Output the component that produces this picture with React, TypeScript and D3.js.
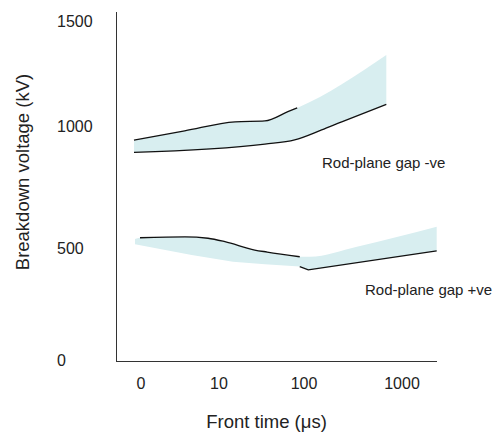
import React from "react";
import * as d3 from "d3";

// x positions are in "decade" units: 0 -> "0", 1 -> "10", 2 -> "100", 3 -> "1000"
const xTickLabels = ["0", "10", "100", "1000"];
const xTickPositions = [0, 1, 2, 3];
const yTickValues = [0, 500, 1000, 1500];

// Rod-plane gap -ve band (kV)
const negTop: [number, number][] = [
  [-0.09, 942], [0.56, 980], [1.19, 1020], [1.54, 1024], [1.81, 1068], [1.92, 1086], [2.84, 1338],
];
const negBottom: [number, number][] = [
  [-0.09, 892], [1.54, 926], [1.89, 943], [2.18, 984], [2.385, 1020], [2.84, 1103],
];

// Rod-plane gap +ve band (kV)
const posTop: [number, number][] = [
  [-0.077, 537], [-0.013, 542], [0.564, 546], [0.859, 540], [1.07, 526], [1.42, 491],
  [1.567, 482], [1.95, 461], [2.06, 461], [2.54, 505], [3.354, 587],
];
const posBottom: [number, number][] = [
  [-0.077, 515], [0.65, 469], [1.165, 439], [1.54, 427], [1.95, 417], [2.044, 402], [3.354, 487],
];

const FONT = "'Liberation Sans', Arial, Helvetica, sans-serif";

export default function App() {
  const W = 495, H = 434;
  const xScale = d3.scaleLinear().domain([0, 1, 2, 3]).range([141, 219, 304, 402]);
  const yScale = d3.scaleLinear().domain([0, 500, 1000, 1500]).range([360, 248, 126, 21]);

  const smooth = d3
    .line<[number, number]>()
    .x((d) => xScale(d[0]))
    .y((d) => yScale(d[1]))
    .curve(d3.curveMonotoneX);
  const straight = d3
    .line<[number, number]>()
    .x((d) => xScale(d[0]))
    .y((d) => yScale(d[1]))
    .curve(d3.curveLinear);

  const band = (
    top: [number, number][],
    bottom: [number, number][],
    bottomLine: d3.Line<[number, number]>
  ) => {
    const a = smooth(top) || "";
    const b = bottomLine([...bottom].reverse()) || "";
    return a + "L" + b.slice(1) + "Z";
  };

  const fill = "#d8eef0";
  const stroke = "#111";
  const sw = 1.3;

  return (
    <svg width={W} height={H} style={{ position: "absolute", left: 0, top: 0, background: "#fff" }}>
      {/* bands */}
      <path d={band(negTop, negBottom, smooth)} fill={fill} />
      <path d={band(posTop, posBottom, straight)} fill={fill} />
      {/* black edges */}
      <path d={smooth(negTop.slice(0, 6)) || ""} fill="none" stroke={stroke} strokeWidth={sw} />
      <path d={smooth(negBottom) || ""} fill="none" stroke={stroke} strokeWidth={sw} />
      <path d={smooth(posTop.slice(1, 8)) || ""} fill="none" stroke={stroke} strokeWidth={sw} />
      <path d={straight(posBottom.slice(4)) || ""} fill="none" stroke={stroke} strokeWidth={sw} />

      {/* axes */}
      <line x1={116.5} y1={12} x2={116.5} y2={361.5} stroke="#333" strokeWidth={1} />
      <line x1={116} y1={361.5} x2={437} y2={361.5} stroke="#333" strokeWidth={1} />

      {yTickValues.map((v) => (
        <text key={v} x={57} y={yScale(v)} dy="0.35em" fontFamily={FONT} fontSize={16} fill="#222">
          {v}
        </text>
      ))}
      {xTickPositions.map((p, i) => (
        <text key={p} x={xScale(p)} y={389} textAnchor="middle" fontFamily={FONT} fontSize={16} fill="#222">
          {xTickLabels[i]}
        </text>
      ))}

      <text
        transform="translate(29,172) rotate(-90)"
        textAnchor="middle"
        fontFamily={FONT}
        fontSize={18.5}
        fill="#222"
      >
        Breakdown voltage (kV)
      </text>
      <text x={266.5} y={428} textAnchor="middle" fontFamily={FONT} fontSize={18.5} fill="#222">
        Front time (μs)
      </text>

      <text x={322} y={168} fontFamily={FONT} fontSize={15} fill="#222">
        Rod-plane gap -ve
      </text>
      <text x={365} y={295} fontFamily={FONT} fontSize={15} fill="#222">
        Rod-plane gap +ve
      </text>
    </svg>
  );
}
